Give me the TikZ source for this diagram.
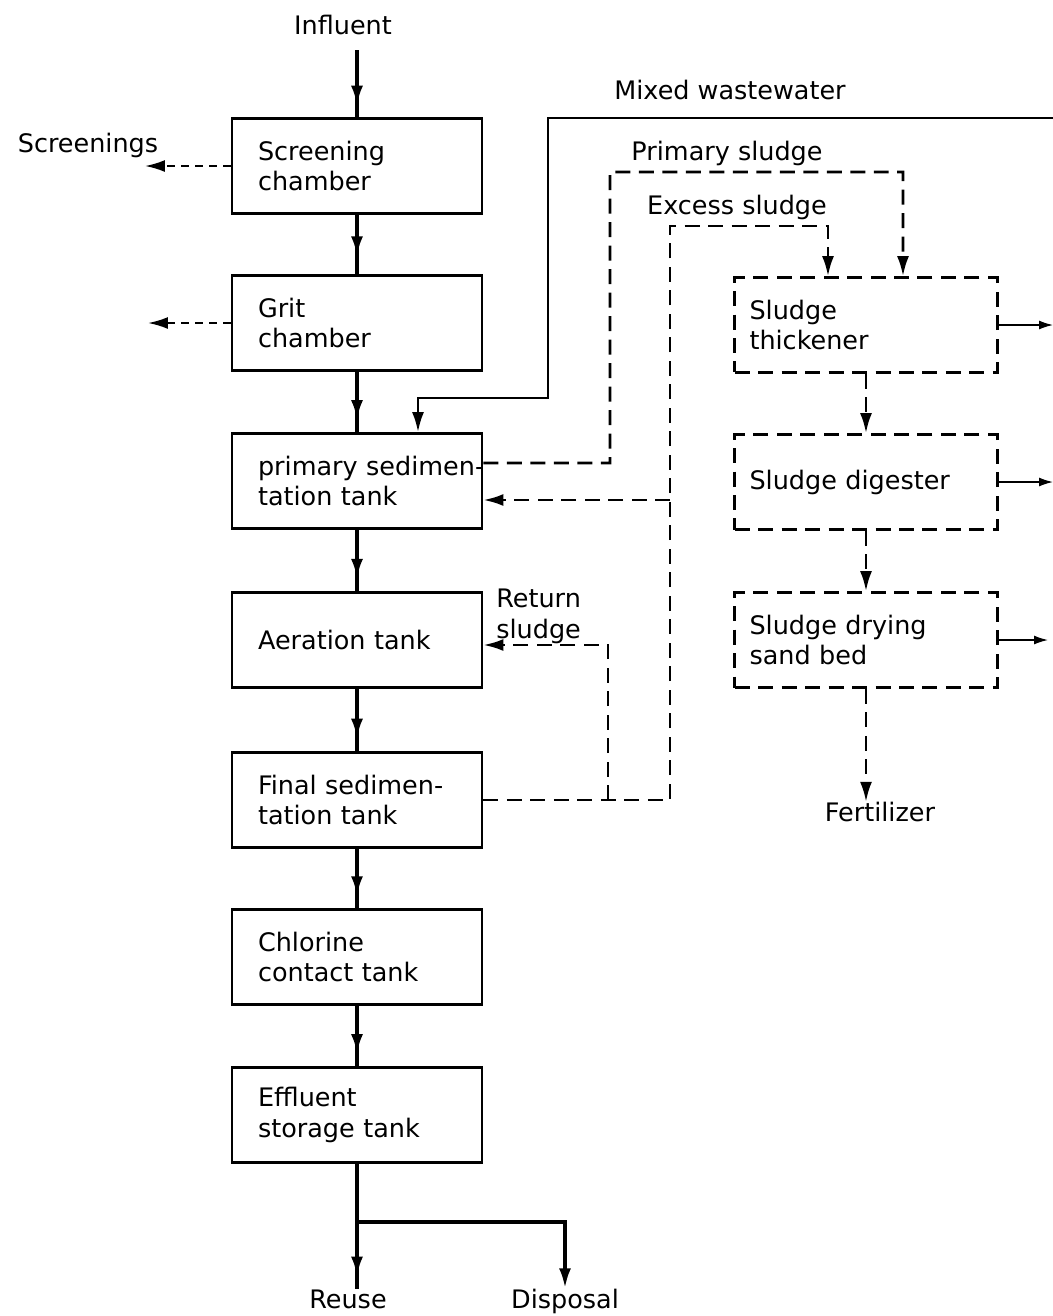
\documentclass[tikz,border=0pt]{standalone}
\usepackage{fontspec}
\setmainfont{DejaVu Sans}
\usetikzlibrary{arrows.meta}
\usetikzlibrary{decorations.markings}
\tikzset{->-/.style={decoration={
  markings,
  mark=at position #1 with {\arrow{>}}},postaction={decorate}}}
\newcommand{\plantfont}{\fontsize{14.5}{17.5}\selectfont}
\tikzset{
  unit/.style={draw, line width=1.6pt, minimum height=1.9cm, text width=3.96cm,
    inner xsep=0.52cm, inner ysep=0pt, align=left, font=\plantfont},
  sludgeunit/.style={unit, dash pattern=on 3mm off 1.7mm, text width=4.66cm, inner xsep=0.3cm},
  flow/.style={line width=2pt},
  sludge/.style={line width=1.5pt, dash pattern=on 3mm off 1.7mm},
  waste/.style={line width=1.2pt, dash pattern=on 1.6mm off 1.2mm},
  mixline/.style={line width=1.4pt},
  outlet/.style={line width=0.8pt, -{Latex[length=2.8mm,width=1.8mm]}},
  tag/.style={font=\plantfont, inner sep=0pt}
}

\begin{document}
\begin{tikzpicture}[x=0.02cm, y=-0.02cm, >={Latex[length=4mm,width=2.4mm]}]
      \useasboundingbox (0, 0) rectangle (1053, 1316);

      \node [unit] (screen) at (357, 166) {Screening\\chamber};
      \node [unit] (grit) at (357, 323) {Grit\\chamber};
      \node [unit] (prim) at (357, 481) {\mbox{primary sedimen-}\\tation tank};
      \node [unit] (aer) at (357, 640) {Aeration tank};
      \node [unit] (final) at (357, 800) {\mbox{Final sedimen-}\\tation tank};
      \node [unit] (chlor) at (357, 957) {Chlorine\\contact tank};
      \node [unit] (eff) at (357, 1115) {Effluent\\storage tank};

      \node [sludgeunit] (thick) at (866, 325) {Sludge\\thickener};
      \node [sludgeunit] (dig) at (866, 482) {Sludge digester};
      \node [sludgeunit] (dry) at (866, 640) {Sludge drying\\sand bed};

      \node [tag] (influent) at (343, 25) {Influent};
      \node [tag] (screenings) at (88, 145) {Screenings};
      \node [tag] (mixed) at (730, 90) {Mixed wastewater};
      \node [tag] (primlbl) at (727, 153) {Primary sludge};
      \node [tag] (excesslbl) at (737, 207) {Excess sludge};
      \node [tag, align=left, anchor=west] (returnlbl) at (496, 616) {Return\\sludge};
      \node [tag] (fert) at (880, 812) {Fertilizer};
      \node [tag, anchor=base] (reuse) at (348, 1308) {Reuse};
      \node [tag, anchor=base] (disp) at (565, 1308) {Disposal};

      \coordinate (inflow) at (357, 50);
      \coordinate (scrout) at (145, 166);
      \coordinate (gritout) at (148, 323);
      \coordinate (mixin) at (1053, 118);
      \coordinate (mixdrop) at (418, 398);
      \coordinate (psup) at (903, 172);
      \coordinate (exsup) at (828, 226);
      \coordinate (branch) at (670, 500);
      \coordinate (retsplit) at (608, 800);
      \coordinate (split) at (357, 1222);
      \coordinate (thickout) at (1053, 325);
      \coordinate (digout) at (1053, 482);
      \coordinate (dryout) at (1048, 640);

      \draw [flow, ->-=0.83] (inflow) -- (screen);
      \draw [flow, ->-=0.7] (screen) -- (grit);
      \draw [flow, ->-=0.8] (grit) -- (prim);
      \draw [flow, ->-=0.8] (prim) -- (aer);
      \draw [flow, ->-=0.8] (aer) -- (final);
      \draw [flow, ->-=0.8] (final) -- (chlor);
      \draw [flow, ->-=0.8] (chlor) -- (eff);
      \draw [flow, ->-=0.9] (eff.south) -- (eff.south |- reuse.north);
      \draw [flow, ->] (split) -| (disp.north);

      \draw [waste, ->] (screen) -- (scrout);
      \draw [waste, ->] (grit) -- (gritout);

      \draw [mixline, ->] (mixin) -| (548, 398) -- (mixdrop) -- (mixdrop |- prim.north);
      \draw [sludge, ->] ([yshift=0.36cm]prim.east) -- (610, 463) |- (psup) -- (psup |- thick.north);
      \draw [sludge, ->] (final.east) -- (670, 800) |- (exsup) -- (exsup |- thick.north);
      \draw [sludge, ->] (branch) -- (branch -| prim.east);
      \draw [sludge, ->] (retsplit) |- ([yshift=-0.1cm]aer.east);

      \draw [sludge, ->] (thick) -- (dig);
      \draw [sludge, ->] (dig) -- (dry);
      \draw [sludge, ->] (dry.south) -- (dry.south |- fert.north);

      \draw [outlet] (thick) -- (thickout);
      \draw [outlet] (dig) -- (digout);
      \draw [outlet] (dry) -- (dryout);
    \end{tikzpicture}
\end{document}
